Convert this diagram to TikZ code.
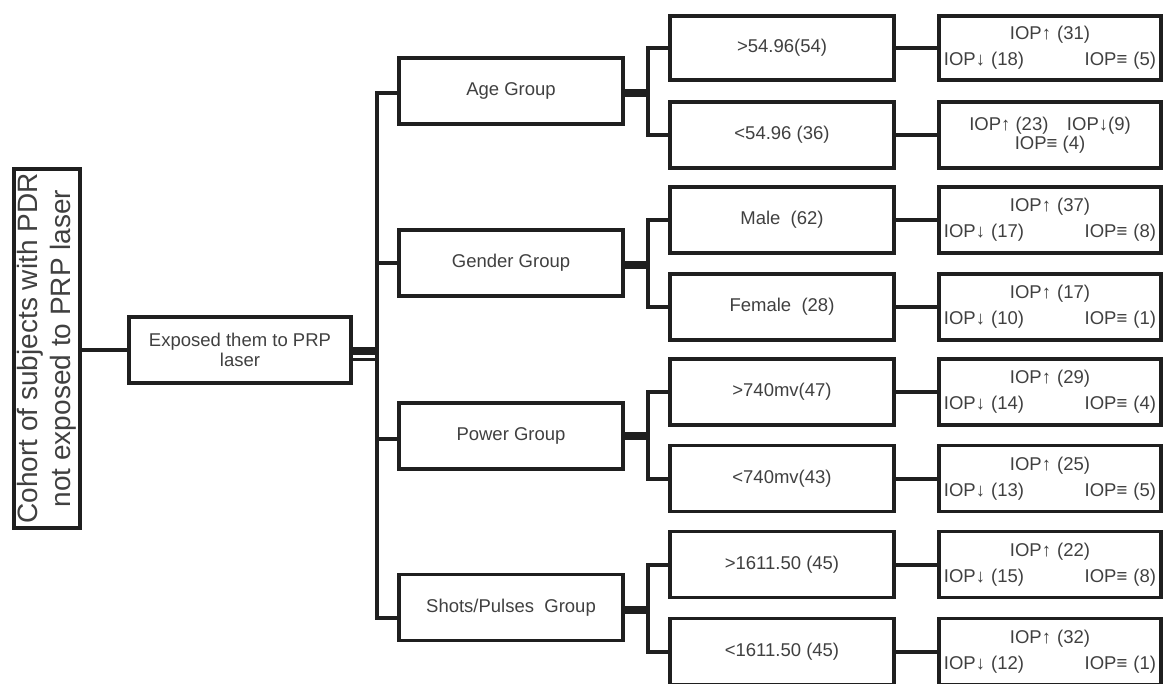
\documentclass[tikz,border=0pt]{standalone}
\usepackage{fontspec}
\setmainfont{Liberation Sans}
\usepackage{tikz}
\usetikzlibrary{positioning}
\usetikzlibrary{calc}

\newcommand{\iop}[3]{IOP↑ (#1)\\IOP↓ (#2)\hfill IOP≡ (#3)}

\tikzset{
    box/.style = {draw = black!88, line width = 3.8pt, inner sep = 0pt,
        minimum width = 224.2pt, minimum height = 66pt, align = center,
        text = black!75, font = \fontsize{18.5}{20}\selectfont},
    res/.style = {box, minimum width = 222.2pt, inner xsep = 5pt,
        text width = 212.2pt, font = \fontsize{18.5}{26}\selectfont},
    link/.style = {draw = black!88, line width = 4pt},
    fat/.style = {draw = black!88, line width = 8pt}
}

\begin{document}
\begin{tikzpicture}[x = 1pt, y = -1pt]
    \useasboundingbox (0,0) rectangle (1166,684);
    \node[box, rotate = 90, minimum width = 359.2pt, minimum height = 66.2pt,
        font = \fontsize{28}{33}\selectfont] (cohort) at (47,348.5)
        {Cohort of subjects with PDR\\not exposed to PRP laser};
    \node[box, minimum width = 222.2pt] (exp) at (240,350) {Exposed them to PRP\\laser};
    \node[box] (age) at (511,91) {Age Group};
    \node[box] (gender) at (511,263) {Gender Group};
    \node[box] (power) at (511,436) {Power Group};
    \node[box] (shots) at (511,607.5) {Shots/Pulses\ \ Group};
    \node[box, minimum height = 64.5pt] (a1) at (782,48) {>54.96(54)};
    \node[box] (a2) at (782,135) {<54.96 (36)};
    \node[box] (g1) at (782,220) {Male\ \ (62)};
    \node[box] (g2) at (782,307) {Female\ \ (28)};
    \node[box] (p1) at (782,392) {>740mv(47)};
    \node[box] (p2) at (782,478.5) {<740mv(43)};
    \node[box] (s1) at (782,564.5) {>1611.50 (45)};
    \node[box] (s2) at (782,651.5) {<1611.50 (45)};
    \node[res, minimum height = 64.5pt] (r1) at (1050,48) {\iop{31}{18}{5}};
    \node[box, minimum width = 222.2pt, font = \fontsize{18.5}{19}\selectfont] (r2) at (1050,135)
        {IOP↑ (23)\quad IOP↓(9)\\IOP≡ (4)};
    \node[res] (r3) at (1050,220) {\iop{37}{17}{8}};
    \node[res] (r4) at (1050,307) {\iop{17}{10}{1}};
    \node[res] (r5) at (1050,392) {\iop{29}{14}{4}};
    \node[res] (r6) at (1050,478.5) {\iop{25}{13}{5}};
    \node[res] (r7) at (1050,564.5) {\iop{22}{15}{8}};
    \node[res] (r8) at (1050,651.5) {\iop{32}{12}{1}};
    \coordinate (trunk) at (377,350);
    \coordinate (bk) at (648,350);
    \draw[link] (cohort.south |- exp.west) -- (exp.west);
    \draw[fat] ([yshift = -1pt]exp.east) -- ([yshift = -1pt]exp.east -| trunk);
    \draw[link, line width = 3pt] ([yshift = -9.5pt]exp.east) -- ([yshift = -9.5pt]exp.east -| trunk);
    \draw[link] ([yshift = -2pt]age.west) -| (trunk) |- ([yshift = -10.5pt]shots.west);
    \draw[link] (gender.west) -- (gender.west -| trunk);
    \draw[link] ([yshift = -3pt]power.west) -- ([yshift = -3pt]power.west -| trunk);
    \draw[fat] ([yshift = -2pt]age.east) -- ([yshift = -2pt]age.east -| bk);
    \draw[fat] ([yshift = -2pt]gender.east) -- ([yshift = -2pt]gender.east -| bk);
    \draw[fat] (power.east) -- (power.east -| bk);
    \draw[fat] ([yshift = -2.5pt]shots.east) -- ([yshift = -2.5pt]shots.east -| bk);
    \draw[link] (a1.west) -| (bk |- age.east) |- (a2.west);
    \draw[link] (g1.west) -| (bk |- gender.east) |- (g2.west);
    \draw[link] (p1.west) -| (bk |- power.east) |- (p2.west);
    \draw[link] (s1.west) -| (bk |- shots.east) |- (s2.west);
    \draw[link] (a1) -- (r1);
    \draw[link] (a2) -- (r2);
    \draw[link] (g1) -- (r3);
    \draw[link] (g2) -- (r4);
    \draw[link] (p1) -- (r5);
    \draw[link] (p2) -- (r6);
    \draw[link] (s1) -- (r7);
    \draw[link] (s2) -- (r8);
\end{tikzpicture}
\end{document}
